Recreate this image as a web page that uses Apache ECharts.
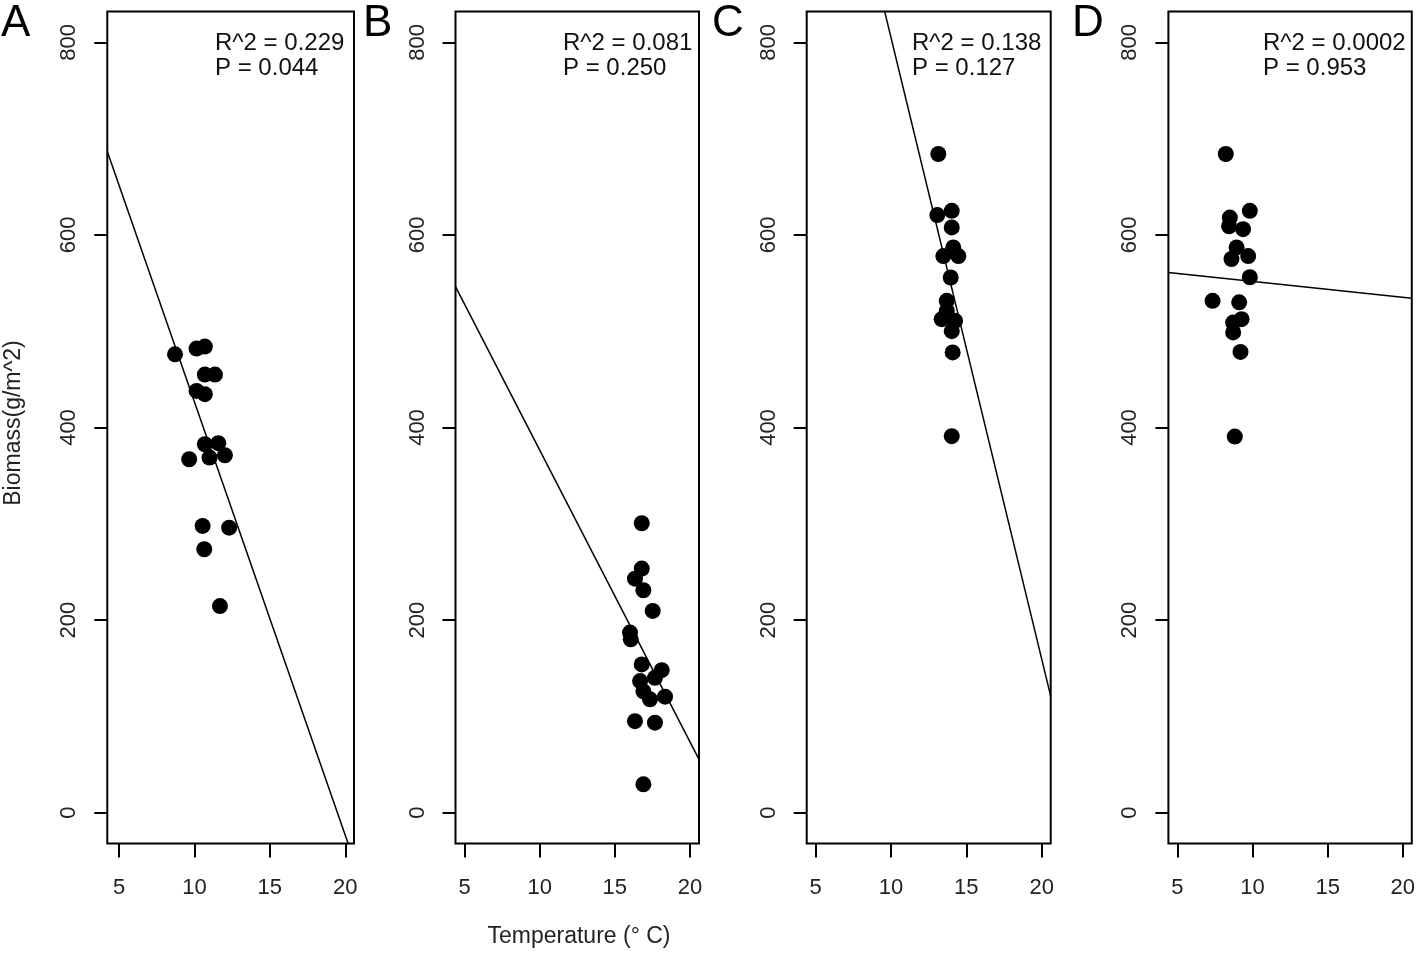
<!DOCTYPE html>
<html><head><meta charset="utf-8">
<script src="https://cdn.jsdelivr.net/npm/echarts@6/dist/echarts.min.js"></script>
<style>html,body{margin:0;padding:0;background:#fff}#c{width:1418px;height:953px}</style>
</head><body><div id="c"></div>
<script>
// ---- data ----
const panelLetters = ['A', 'B', 'C', 'D'];
const xTicks = [5, 10, 15, 20];
const yTicks = [0, 200, 400, 600, 800];

const tempA = [8.71, 10.14, 10.69, 10.69, 11.36, 10.14, 10.69, 10.69, 11.58, 11.0, 12.02, 9.65, 10.54, 12.3, 10.65, 11.69];
const bioA  = [476, 482, 484, 455, 455, 438, 434.6, 382.6, 383.7, 368.8, 371.2, 367, 297.8, 296, 273.6, 214.6];

const tempB = [16.79, 16.79, 16.34, 16.9, 17.52, 16.01, 16.06, 16.79, 18.12, 17.67, 16.68, 16.9, 17.34, 18.34, 16.34, 17.67, 16.9];
const bioB  = [300.6, 253.5, 243, 231, 209.5, 187, 180, 154, 148, 140, 136.7, 126, 117.7, 120.5, 95, 93.5, 29.4];

const tempC = [13.14, 13.07, 14.03, 14.03, 14.13, 13.47, 14.47, 13.96, 13.70, 13.36, 14.25, 14.03, 13.70, 14.09, 14.03];
const bioC  = [684, 620.6, 625, 607.8, 587, 578, 578, 555.8, 531.5, 512.5, 510.8, 500, 521, 478, 391];

const tempD = [8.22, 8.49, 9.82, 8.44, 9.37, 8.94, 8.60, 9.71, 9.82, 7.34, 9.11, 9.27, 8.71, 8.71, 9.20, 8.82];
const bioD  = [684, 618, 625, 609, 606, 587, 575, 578, 556, 531.5, 530, 512.5, 509, 498.7, 478.5, 390.6];

const r2Labels = ['R^2 = 0.229', 'R^2 = 0.081', 'R^2 = 0.138', 'R^2 = 0.0002'];
const pLabels  = ['P = 0.044', 'P = 0.250', 'P = 0.127', 'P = 0.953'];
const fitIntercept = [876.6, 679.6, 1449.7, 568.1];
const fitSlope     = [-45.0, -30.3, -64.5, -1.65];

const xTitle = 'Temperature (° C)';
const yTitle = 'Biomass(g/m^2)';

// ---- layout ----
const temps = [tempA, tempB, tempC, tempD];
const bios = [bioA, bioB, bioC, bioD];
const gridLeft = [107.3, 455.5, 806.7, 1168.4];
const gridWidth = [246.7, 243.5, 244, 244];
const xMin = [4.22, 4.4, 4.4, 4.4];
const xMax = [20.58, 20.6, 20.6, 20.6];
const yMin = -32, yMax = 832;
const gridTop = 11.5, gridHeight = 832;
const letterX = [1, 363, 712, 1072];
const annotX = [215, 563, 912, 1263];
const FONT = '"Liberation Sans", Arial, sans-serif';

const grids = [], xAxes = [], yAxes = [], series = [], graphics = [];
for (let i = 0; i < 4; i++) {
  grids.push({ left: gridLeft[i], top: gridTop, width: gridWidth[i], height: gridHeight,
    show: true, borderColor: '#000', borderWidth: 2, backgroundColor: 'transparent', containLabel: false });
  xAxes.push({ type: 'value', gridIndex: i, min: xMin[i], max: xMax[i], position: 'bottom',
    axisLine: { show: false, onZero: false }, splitLine: { show: false },
    axisTick: { show: true, inside: false, length: 14, customValues: xTicks, lineStyle: { color: '#000', width: 2 } },
    axisLabel: { show: true, customValues: xTicks, margin: 33, color: '#222', fontSize: 22, fontFamily: FONT }
  });
  yAxes.push({ type: 'value', gridIndex: i, min: yMin, max: yMax, position: 'left',
    axisLine: { show: false, onZero: false }, splitLine: { show: false },
    axisTick: { show: true, inside: false, length: 13, customValues: yTicks, lineStyle: { color: '#000', width: 2 } },
    axisLabel: { show: true, customValues: yTicks, rotate: 90, margin: 27, color: '#222', fontSize: 22, fontFamily: FONT }
  });
  series.push({ type: 'scatter', xAxisIndex: i, yAxisIndex: i, symbol: 'circle', symbolSize: 16,
    itemStyle: { color: '#000', opacity: 1 }, silent: true,
    data: temps[i].map((t, k) => [t, bios[i][k]]) });
  series.push({ type: 'line', xAxisIndex: i, yAxisIndex: i, symbol: 'none', clip: true, silent: true,
    lineStyle: { color: '#000', width: 1.5 },
    data: [[xMin[i], fitIntercept[i] + fitSlope[i] * xMin[i]], [xMax[i], fitIntercept[i] + fitSlope[i] * xMax[i]]] });
  graphics.push({ type: 'text', left: letterX[i], top: 2,
    style: { text: panelLetters[i], fontSize: 44, fontFamily: FONT, fill: '#000' } });
  graphics.push({ type: 'text', x: annotX[i], y: 43,
    style: { text: r2Labels[i], fontSize: 24, fontFamily: FONT, fill: '#111', textVerticalAlign: 'middle' } });
  graphics.push({ type: 'text', x: annotX[i], y: 68,
    style: { text: pLabels[i], fontSize: 24, fontFamily: FONT, fill: '#111', textVerticalAlign: 'middle' } });
}
graphics.push({ type: 'text', x: 579, y: 937,
  style: { text: xTitle, fontSize: 23, fontFamily: FONT, fill: '#222', textAlign: 'center', textVerticalAlign: 'middle' } });
graphics.push({ type: 'text', x: 14, y: 423, rotation: Math.PI / 2,
  style: { text: yTitle, fontSize: 23, fontFamily: FONT, fill: '#222', textAlign: 'center', textVerticalAlign: 'middle' } });

const chart = echarts.init(document.getElementById('c'), null, { renderer: 'canvas' });
chart.setOption({ animation: false, backgroundColor: '#fff', grid: grids, xAxis: xAxes, yAxis: yAxes, series, graphic: graphics });
</script></body></html>
